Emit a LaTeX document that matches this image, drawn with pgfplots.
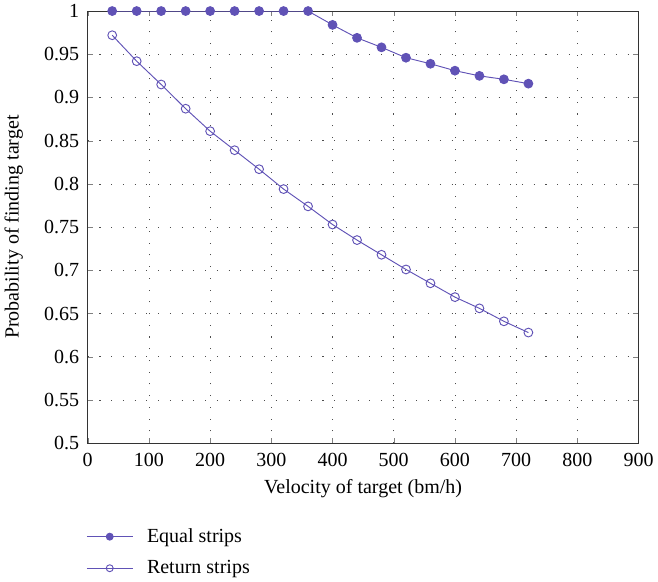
\documentclass[border=0pt]{standalone}
\usepackage{pgfplots}
\pgfplotsset{compat=1.18}
\usepackage{fontspec}
\setmainfont{Liberation Serif}
\definecolor{lineblue}{RGB}{96,82,182}
\begin{document}
\begin{tikzpicture}[font=\fontsize{15}{17}\selectfont]
\begin{axis}[
	scale only axis,
	width=413pt, height=324pt,
	xmin=0, xmax=900, ymin=0.5, ymax=1,
	xtick={0,100,...,900},
	ytick={0.5,0.55,...,1.01},
	yticklabel style={xshift=-3pt, /pgf/number format/fixed, /pgf/number format/precision=2},
	/pgf/number format/assume math mode=true,
	tick align=inside,
	xtick pos=both, ytick pos=both,
	major tick length=4pt,
	xmajorgrids=true, ymajorgrids=true,
	grid style={black!70, dash pattern=on 0.8pt off 8pt},
	axis line style={black!80, line width=0.8pt},
	xticklabel style={yshift=-4pt},
	xlabel={Velocity of target (bm/h)},
	ylabel={Probability of finding target},
	xlabel style={yshift=-3pt},
	ylabel style={yshift=9pt},
	legend style={at={(-0.01,-0.185)}, anchor=north west, draw=none, fill=none,
		legend cell align=left, row sep=8pt, font=\fontsize{15}{17}\selectfont},
	legend image code/.code={\draw[mark repeat=2,mark phase=2,mark size=2.6pt] plot coordinates {(0cm,0cm) (0.6cm,0cm) (1.2cm,0cm)}; \path (1.5cm,0cm);},
]
\addplot[color=lineblue, line width=0.7pt, mark=*, mark size=3.3pt, mark options={fill=lineblue}]
coordinates{
	(40,1) (80,1) (120,1) (160,1) (200,1) (240,1) (280,1) (320,1) (360,1)
	(400,0.984) (440,0.969) (480,0.958) (520,0.946) (560,0.939)
	(600,0.931) (640,0.925) (680,0.921) (720,0.916)
};
\addlegendentry{Equal strips}

\addplot[color=lineblue, line width=0.7pt, mark=o, mark size=3.3pt, mark options={fill=white}]
coordinates{
	(40,0.972) (80,0.942) (120,0.915) (160,0.887) (200,0.861) (240,0.839)
	(280,0.817) (320,0.794) (360,0.774) (400,0.753) (440,0.735) (480,0.718)
	(520,0.701) (560,0.685) (600,0.669) (640,0.656) (680,0.641) (720,0.628)
};
\addlegendentry{Return strips}
\end{axis}
\end{tikzpicture}
\end{document}
